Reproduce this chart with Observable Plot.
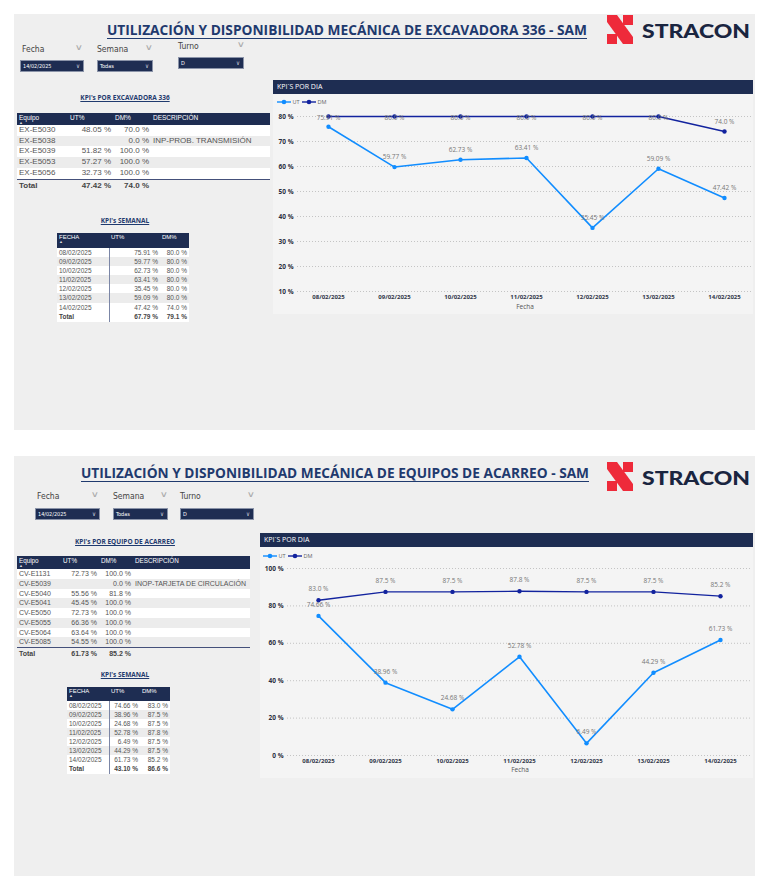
<!DOCTYPE html>
<html><head><meta charset="utf-8">
<script src="https://cdn.jsdelivr.net/npm/d3@7"></script>
<script src="https://cdn.jsdelivr.net/npm/@observablehq/plot@0.6"></script>
<style>
body{margin:0;background:#fff;font-family:"Liberation Sans",Arial,sans-serif;}
#page{position:relative;width:768px;height:888px;overflow:hidden;background:#fff;}
.panel{position:absolute;background:#efefef;}
.abs{position:absolute;}
.chartbg{position:absolute;background:#f4f4f4;}
.bar{position:absolute;background:#1e2d52;color:#fff;font-family:"Open Sans",sans-serif;font-size:7px;line-height:14px;padding-left:4px;box-sizing:border-box;}
.flabel{position:absolute;font-family:"Liberation Sans Narrow","DejaVu Sans Condensed",sans-serif;font-size:8.5px;color:#444;}
.fchev{position:absolute;font-size:8px;color:#aaa;font-family:"DejaVu Sans",sans-serif;transform:scaleX(1.4);}
.fbox{position:absolute;background:#1e2d52;border:1px solid #8a93a8;box-sizing:border-box;color:#fff;font-family:"Liberation Sans Narrow","DejaVu Sans Condensed",sans-serif;font-size:5.5px;line-height:10px;padding-left:2px;}
.fbox span{position:absolute;right:3px;top:0;color:#ccd;font-size:6px;}
.ttl{position:absolute;font-family:"Open Sans",sans-serif;font-weight:bold;font-size:6.5px;color:#1f3a6e;text-decoration:underline;text-align:center;white-space:nowrap;}
table.tbl{position:absolute;border-collapse:collapse;table-layout:fixed;font-family:"Liberation Sans",Arial,sans-serif;color:#555;}
table.tbl th{background:#1e2d52;color:#fff;font-weight:normal;text-align:left;vertical-align:top;padding:1px 2px 0 2px;overflow:hidden;white-space:nowrap;}
table.tbl th .arr{display:block;font-size:4px;line-height:4px;color:#ddd;}
table.tbl td{padding:0 2px;white-space:nowrap;overflow:hidden;}
table.tbl td.num{text-align:right;}
table.tbl tr.odd td{background:#ffffff;}
table.tbl tr.even td{background:#ececec;}
table.tbl tr.tot td{font-weight:bold;color:#444;border-top:1.5px solid #44507a;background:#efefef;}
table.tbl.wk tr.tot td{border-top:none;background:#ffffff;}
.legend{position:absolute;font-family:"Open Sans",sans-serif;font-size:5.5px;color:#666;}
</style></head>
<body><div id="page"></div>
<script>
// ---------------- DATA ----------------
const fechas = ["08/02/2025","09/02/2025","10/02/2025","11/02/2025","12/02/2025","13/02/2025","14/02/2025"];

// Excavadora 336
const exUT = [75.91, 59.77, 62.73, 63.41, 35.45, 59.09, 47.42];
const exDM = [80.0, 80.0, 80.0, 80.0, 80.0, 80.0, 74.0];
const exTotalSemana = ["67.79 %", "79.1 %"];
const exEquipos = ["EX-E5030","EX-E5038","EX-E5039","EX-E5053","EX-E5056"];
const exEquipoUT = ["48.05 %","","51.82 %","57.27 %","32.73 %"];
const exEquipoDM = ["70.0 %","0.0 %","100.0 %","100.0 %","100.0 %"];
const exEquipoDesc = ["","INP-PROB. TRANSMISIÓN","","",""];
const exEquipoTotal = ["47.42 %","74.0 %"];
const exTicks = [10,20,30,40,50,60,70,80];

// Equipos de acarreo
const acUT = [74.66, 38.96, 24.68, 52.78, 6.49, 44.29, 61.73];
const acDM = [83.0, 87.5, 87.5, 87.8, 87.5, 87.5, 85.2];
const acTotalSemana = ["43.10 %", "86.6 %"];
const acEquipos = ["CV-E1131","CV-E5039","CV-E5040","CV-E5041","CV-E5050","CV-E5055","CV-E5064","CV-E5085"];
const acEquipoUT = ["72.73 %","","55.56 %","45.45 %","72.73 %","66.36 %","63.64 %","54.55 %"];
const acEquipoDM = ["100.0 %","0.0 %","81.8 %","100.0 %","100.0 %","100.0 %","100.0 %","100.0 %"];
const acEquipoDesc = ["","INOP-TARJETA DE CIRCULACIÓN","","","","","",""];
const acEquipoTotal = ["61.73 %","85.2 %"];
const acTicks = [0,20,40,60,80,100];

const utColor = "#118DFF", dmColor = "#12239E";
// --------------------------------------

const page = document.getElementById("page");
function el(tag, cls, style, html){const e=document.createElement(tag); if(cls)e.className=cls; if(style)e.style.cssText=style; if(html!=null)e.innerHTML=html; page.appendChild(e); return e;}

function titleSvg(top, text, x1, x2){
  const cx=(x1+x2)/2;
  el("div","abs",`left:0;top:${top}px;width:768px;height:30px`,
   `<svg width="768" height="30"><text x="${cx}" y="21" text-anchor="middle" textLength="${x2-x1}" lengthAdjust="spacingAndGlyphs" font-family="Open Sans" font-weight="bold" font-size="15" fill="#1f3a6e">${text}</text><line x1="${x1}" x2="${x2}" y1="24.5" y2="24.5" stroke="#1f3a6e" stroke-width="1.2"/></svg>`);
}
function logo(top){
  el("div","abs",`left:605px;top:${top}px;width:150px;height:36px`,
   `<svg width="150" height="36">
     <polygon points="2,3 12,3 28,25 28,32 18,32 2,10" fill="#ee2a3a"/>
     <rect x="18" y="3" width="10" height="10" fill="#ee2a3a"/>
     <rect x="2" y="22" width="10" height="10" fill="#ee2a3a"/>
     <text x="37" y="25.5" textLength="108" lengthAdjust="spacingAndGlyphs" font-family="Lato" font-weight="900" font-size="19" fill="#1a2540">STRACON</text>
   </svg>`);
}
function filter(lx, ly, chevX, bx, by, bw, value, label){
  el("div","flabel",`left:${lx}px;top:${ly-6}px`, label);
  el("div","fchev",`left:${chevX}px;top:${ly-7}px`, "∨");
  el("div","fbox",`left:${bx}px;top:${by}px;width:${bw}px;height:12px`, value+"<span>∨</span>");
}
function table(left, top, widths, headers, rows, total, opts){
  const t=el("table","tbl"+(opts.sep?" wk":""),`left:${left}px;top:${top}px;width:${widths.reduce((a,b)=>a+b,0)}px;font-size:${opts.fs}px`);
  let h="<colgroup>"+widths.map(w=>`<col style="width:${w}px">`).join("")+"</colgroup>";
  h+=`<tr style="height:${opts.hh}px">`+headers.map((x,i)=>`<th style="font-size:${opts.hfs}px;">${x}${i==0?'<span class="arr">▲</span>':''}</th>`).join("")+"</tr>";
  rows.forEach((r,j)=>{
    h+=`<tr class="${j%2==0?'odd':'even'}" style="height:${opts.rh}px;line-height:${opts.rh}px">`+r.map((c,i)=>`<td class="${opts.num.includes(i)?'num':''}" style="${opts.sep&&i==1?'border-left:1px solid #7b86a6;':''}">${c}</td>`).join("")+"</tr>";
  });
  h+=`<tr class="tot" style="height:${opts.th}px;line-height:${opts.th}px">`+total.map((c,i)=>`<td class="${opts.num.includes(i)?'num':''}" style="${opts.sep&&i==1?'border-left:1px solid #7b86a6;':''}">${c}</td>`).join("")+"</tr>";
  t.innerHTML=h;
}
function legend(left, top){
  el("div","legend",`left:${left}px;top:${top}px`,
   `<svg width="60" height="8" style="vertical-align:middle"><line x1="1" x2="15" y1="4" y2="4" stroke="${utColor}" stroke-width="1.4"/><circle cx="8" cy="4" r="2.3" fill="${utColor}"/><text x="16.5" y="6" font-size="5.5" fill="#666" font-family="Open Sans">UT</text>
   <line x1="26" x2="40" y1="4" y2="4" stroke="${dmColor}" stroke-width="1.4"/><circle cx="33" cy="4" r="2.3" fill="${dmColor}"/><text x="41.5" y="6" font-size="5.5" fill="#666" font-family="Open Sans">DM</text></svg>`);
}
function chart(cfg){
  const data=[];
  fechas.forEach((f,i)=>{data.push({Fecha:f, serie:"UT", v:cfg.ut[i], i}); data.push({Fecha:f, serie:"DM", v:cfg.dm[i], i});});
  const ut=data.filter(d=>d.serie==="UT"), dm=data.filter(d=>d.serie==="DM");
  const lab=v=>Math.min(v,cfg.cap);
  // like Power BI: hide a DM label that would sit on top of the UT label
  const dmLab=dm.filter(d=>Math.abs(lab(d.v)-lab(cfg.ut[d.i]))>cfg.minGap);
  const p=Plot.plot({
    width:cfg.width, height:cfg.height,
    marginTop:cfg.mt, marginBottom:cfg.mb, marginLeft:cfg.ml, marginRight:1,
    style:{background:"transparent", fontFamily:"Open Sans, sans-serif", fontSize:"6px", overflow:"visible"},
    x:{type:"point", domain:fechas, padding:cfg.padding, align:cfg.align},
    y:{domain:cfg.domain},
    marks:[
      Plot.gridY(cfg.ticks,{stroke:"#b8b8b8", strokeOpacity:1, strokeDasharray:"1,2", strokeWidth:0.8}),
      Plot.axisY(cfg.ticks,{tickSize:0, tickPadding:4, tickFormat:d=>d+" %", fontWeight:"bold", fill:"#2b2f40", fontSize:6.5, label:null}),
      Plot.axisX({tickSize:0, tickPadding:3, fontWeight:"bold", fill:"#2f3448", fontSize:6, label:null}),
      Plot.text(["Fecha"],{frameAnchor:"bottom", dy:cfg.fdy, fill:"#555", fontSize:6.5}),
      Plot.line(ut,{x:"Fecha", y:"v", stroke:utColor, strokeWidth:1.6}),
      Plot.line(dm,{x:"Fecha", y:"v", stroke:dmColor, strokeWidth:1.4}),
      Plot.dot(ut,{x:"Fecha", y:"v", fill:utColor, r:2.2}),
      Plot.dot(dm,{x:"Fecha", y:"v", fill:dmColor, r:2.2}),
      Plot.text(ut,{x:"Fecha", y:d=>lab(d.v), text:d=>d.v.toFixed(2)+" %", dy:cfg.ldy, fill:"#777", fontSize:6.5}),
      Plot.text(dmLab,{x:"Fecha", y:d=>lab(d.v), text:d=>d.v.toFixed(1)+" %", dy:cfg.ldy, fill:"#777", fontSize:6.5})
    ]
  });
  p.style.position="absolute"; p.style.left=cfg.left+"px"; p.style.top=cfg.top+"px";
  page.appendChild(p);
}

// ---------- PANEL 1 ----------
el("div","panel","left:14px;top:14px;width:741px;height:416px");
titleSvg(14,"UTILIZACIÓN Y DISPONIBILIDAD MECÁNICA DE EXCAVADORA 336 - SAM",107,587);
logo(12);
filter(22,50,76,20,60,64,"14/02/2025","Fecha");
filter(97,50,146,97,60,56,"Todas","Semana");
filter(178,47,238,178,57,66,"D","Turno");
el("div","ttl","left:75px;top:93px;width:100px","KPI's POR EXCAVADORA 336");
table(17,113,[51,45,38,119],["Equipo","UT%","DM%","DESCRIPCIÓN"],
  exEquipos.map((e,i)=>[e,exEquipoUT[i],exEquipoDM[i],exEquipoDesc[i]]),
  ["Total",exEquipoTotal[0],exEquipoTotal[1],""],
  {fs:8,hfs:6.5,hh:12,rh:10.7,th:11,num:[1,2]});
el("div","ttl","left:75px;top:216px;width:100px","KPI's SEMANAL");
table(57,233,[52,51,29],["FECHA","UT%","DM%"],
  fechas.map((f,i)=>[f,exUT[i].toFixed(2)+" %",exDM[i].toFixed(1)+" %"]),
  ["Total",exTotalSemana[0],exTotalSemana[1]],
  {fs:6.5,hfs:6,hh:15,rh:9.1,th:10,num:[1,2],sep:true});
el("div","chartbg","left:273px;top:94px;width:480px;height:220px");
el("div","bar","left:273px;top:80px;width:480px;height:14px","KPI´S POR DIA");
legend(276,97);
chart({left:273, top:94, width:480, height:220, mt:22, mb:23, ml:24, domain:[10,80], ticks:exTicks,
  padding:0.42, align:0.52, ut:exUT, dm:exDM, cap:75.6, ldy:-10, fdy:17, minGap:1.5});

// ---------- PANEL 2 ----------
el("div","panel","left:14px;top:456px;width:741px;height:420px");
titleSvg(457,"UTILIZACIÓN Y DISPONIBILIDAD MECÁNICA DE EQUIPOS DE ACARREO - SAM",81,589);
logo(459);
filter(37,497,92,35,508,65,"14/02/2025","Fecha");
filter(113,497,161,113,508,55,"Todas","Semana");
filter(180,497,248,180,508,74,"D","Turno");
el("div","ttl","left:74px;top:537px;width:102px","KPI's POR EQUIPO DE ACARREO");
table(17,556,[44,38,34,117],["Equipo","UT%","DM%","DESCRIPCIÓN"],
  acEquipos.map((e,i)=>[e,acEquipoUT[i],acEquipoDM[i],acEquipoDesc[i]]),
  ["Total",acEquipoTotal[0],acEquipoTotal[1],""],
  {fs:7,hfs:6.3,hh:13,rh:9.75,th:12,num:[1,2]});
el("div","ttl","left:74px;top:670px;width:102px","KPI's SEMANAL");
table(67,687,[42,31,30],["FECHA","UT%","DM%"],
  fechas.map((f,i)=>[f,acUT[i].toFixed(2)+" %",acDM[i].toFixed(1)+" %"]),
  ["Total",acTotalSemana[0],acTotalSemana[1]],
  {fs:6.5,hfs:6,hh:14,rh:9,th:10,num:[1,2],sep:true});
el("div","chartbg","left:260px;top:547px;width:493px;height:231px");
el("div","bar","left:260px;top:533px;width:493px;height:14px","KPI´S POR DIA");
legend(262,551);
chart({left:260, top:547, width:493, height:231, mt:21, mb:23, ml:27, domain:[0,100], ticks:acTicks,
  padding:0.436, align:0.49, ut:acUT, dm:acDM, cap:200, ldy:-11, fdy:16, minGap:1.5});
</script></body></html>
